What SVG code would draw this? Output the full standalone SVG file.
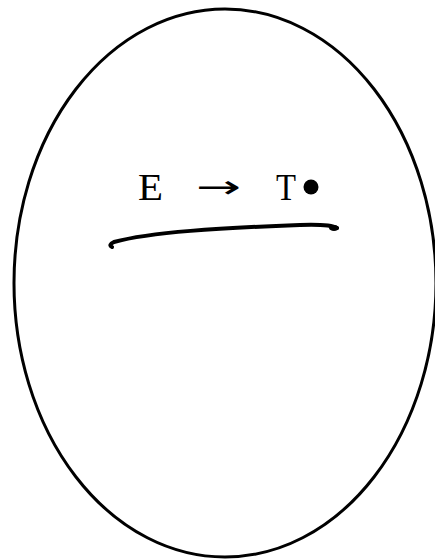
<svg xmlns="http://www.w3.org/2000/svg" width="435" height="560" viewBox="0 0 435 560">
<style>
.t{font-family:"Liberation Serif","DejaVu Serif",serif;font-size:37px;fill:#000}
.a{font-family:"DejaVu Sans",sans-serif;font-size:32px;fill:#000}
</style>
<rect width="435" height="560" fill="#fff"/>
<g id="shape">
<ellipse cx="225" cy="283" rx="211" ry="274" fill="none" stroke="#000" stroke-width="3"/>
</g>
<g id="label">
<text class="t" x="138" y="200" textLength="25" lengthAdjust="spacingAndGlyphs">E</text>
<text class="a" x="196" y="198" textLength="45" lengthAdjust="spacingAndGlyphs">→</text>
<text class="t" x="276" y="200" textLength="20" lengthAdjust="spacingAndGlyphs">T</text>
<circle cx="311" cy="187" r="7.5" fill="#000"/>
</g>
<g id="connectors">
<path d="M112,247 Q108,245 114,242 C150,232 220,228 300,225 Q330,224 337,228" fill="none" stroke="#000" stroke-width="4" stroke-linecap="round"/>
<ellipse cx="334" cy="228" rx="5" ry="3" fill="#000"/>
</g>
</svg>
